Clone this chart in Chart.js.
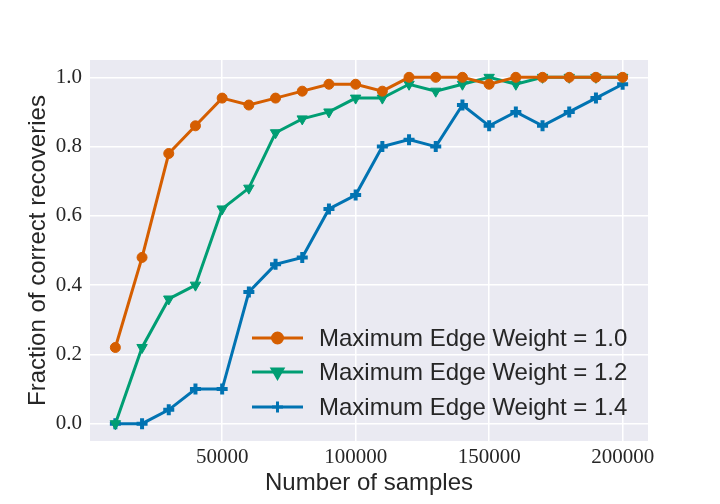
<!DOCTYPE html>
<html>
<head>
<meta charset="utf-8">
<script src="https://cdn.jsdelivr.net/npm/chart.js@4"></script>
<style>
  html, body { margin: 0; padding: 0; background: #fff; }
  #wrap { width: 720px; height: 504px; }
</style>
</head>
<body>
<div id="wrap"><canvas id="chart" width="720" height="504"></canvas></div>
<script>
// data
const samples = [10000, 20000, 30000, 40000, 50000, 60000, 70000, 80000, 90000, 100000,
  110000, 120000, 130000, 140000, 150000, 160000, 170000, 180000, 190000, 200000];
const weight10 = [0.22, 0.48, 0.78, 0.86, 0.94, 0.92, 0.94, 0.96, 0.98, 0.98,
  0.96, 1.0, 1.0, 1.0, 0.98, 1.0, 1.0, 1.0, 1.0, 1.0];
const weight12 = [0.0, 0.22, 0.36, 0.40, 0.62, 0.68, 0.84, 0.88, 0.90, 0.94,
  0.94, 0.98, 0.96, 0.98, 1.0, 0.98, 1.0, 1.0, 1.0, 1.0];
const weight14 = [0.0, 0.0, 0.04, 0.10, 0.10, 0.38, 0.46, 0.48, 0.62, 0.66,
  0.80, 0.82, 0.80, 0.92, 0.86, 0.90, 0.86, 0.90, 0.94, 0.98];
const seriesLabels = ['Maximum Edge Weight = 1.0', 'Maximum Edge Weight = 1.2', 'Maximum Edge Weight = 1.4'];
const xTicks = [50000, 100000, 150000, 200000];
const yTicks = [0.0, 0.2, 0.4, 0.6, 0.8, 1.0];

const textColor = '#262626';
const sansFont = '"Liberation Sans", Arial, sans-serif';
const serifFont = '"Liberation Serif", "DejaVu Serif", serif';

function toPoints(ys) {
  return samples.map((x, i) => ({ x: x, y: ys[i] }));
}

// grey axes background like seaborn darkgrid
const plotBackground = {
  id: 'plotBackground',
  beforeDraw(chart) {
    const { ctx, chartArea: a } = chart;
    ctx.save();
    ctx.fillStyle = '#eaeaf2';
    ctx.fillRect(a.left, a.top, a.right - a.left, a.bottom - a.top);
    ctx.restore();
  }
};

// legend drawn inside the plot, lower right
const innerLegend = {
  id: 'innerLegend',
  afterDraw(chart) {
    const ctx = chart.ctx;
    const x0 = 252, x1 = 303, tx = 319;
    const rows = [338, 372, 407];
    ctx.save();
    chart.data.datasets.forEach((ds, i) => {
      const y = rows[i];
      ctx.strokeStyle = ds.borderColor;
      ctx.lineWidth = ds.borderWidth;
      ctx.beginPath();
      ctx.moveTo(x0, y);
      ctx.lineTo(x1, y);
      ctx.stroke();
      ctx.fillStyle = ds.backgroundColor;
      ctx.strokeStyle = ds.borderColor;
      Chart.helpers.drawPoint(ctx, {
        pointStyle: ds.pointStyle,
        radius: ds.pointRadius,
        rotation: ds.pointRotation || 0,
        borderWidth: ds.pointBorderWidth
      }, (x0 + x1) / 2, y);
      ctx.fillStyle = textColor;
      ctx.font = '24px ' + sansFont;
      ctx.textAlign = 'left';
      ctx.textBaseline = 'middle';
      ctx.fillText(ds.label, tx, y + 1);
    });
    ctx.restore();
  }
};

new Chart(document.getElementById('chart'), {
  type: 'line',
  data: {
    datasets: [
      {
        label: seriesLabels[0],
        data: toPoints(weight10),
        borderColor: '#d55e00',
        backgroundColor: '#d55e00',
        borderWidth: 3,
        pointStyle: 'circle',
        pointRadius: 5,
        pointBorderWidth: 1,
        tension: 0
      },
      {
        label: seriesLabels[1],
        data: toPoints(weight12),
        borderColor: '#009e73',
        backgroundColor: '#009e73',
        borderWidth: 3,
        pointStyle: 'triangle',
        pointRotation: 180,
        pointRadius: 6,
        pointBorderWidth: 1,
        tension: 0
      },
      {
        label: seriesLabels[2],
        data: toPoints(weight14),
        borderColor: '#0173b2',
        backgroundColor: '#0173b2',
        borderWidth: 3,
        pointStyle: 'cross',
        pointRadius: 5.5,
        pointBorderWidth: 4,
        tension: 0
      }
    ]
  },
  options: {
    responsive: false,
    animation: false,
    layout: { padding: { left: 0, right: 72, top: 60, bottom: 0 } },
    plugins: {
      legend: { display: false },
      tooltip: { enabled: false }
    },
    scales: {
      x: {
        type: 'linear',
        min: 500,
        max: 209500,
        afterBuildTicks: s => { s.ticks = xTicks.map(v => ({ value: v })); },
        afterFit: s => { s.height = 63; },
        grid: { color: '#ffffff', lineWidth: 1.5, drawTicks: false },
        border: { display: false },
        ticks: {
          padding: 5,
          color: textColor,
          font: { family: serifFont, size: 21, lineHeight: 1.1 },
          maxRotation: 0,
          callback: v => String(v)
        },
        title: {
          display: true,
          text: 'Number of samples',
          color: textColor,
          font: { family: sansFont, size: 24, lineHeight: 1.2 },
          padding: { top: 0, bottom: 6 }
        }
      },
      y: {
        type: 'linear',
        min: -0.05,
        max: 1.05,
        afterBuildTicks: s => { s.ticks = yTicks.map(v => ({ value: v })); },
        afterFit: s => { s.width = 90; },
        grid: { color: '#ffffff', lineWidth: 1.5, drawTicks: false },
        border: { display: false },
        ticks: {
          padding: 8,
          color: textColor,
          font: { family: serifFont, size: 21, lineHeight: 1.1 },
          callback: v => v.toFixed(1)
        },
        title: {
          display: true,
          text: 'Fraction of correct recoveries',
          color: textColor,
          font: { family: sansFont, size: 24, lineHeight: 1.2 },
          padding: { top: 24, bottom: 0 }
        }
      }
    }
  },
  plugins: [plotBackground, innerLegend]
});
</script>
</body>
</html>
